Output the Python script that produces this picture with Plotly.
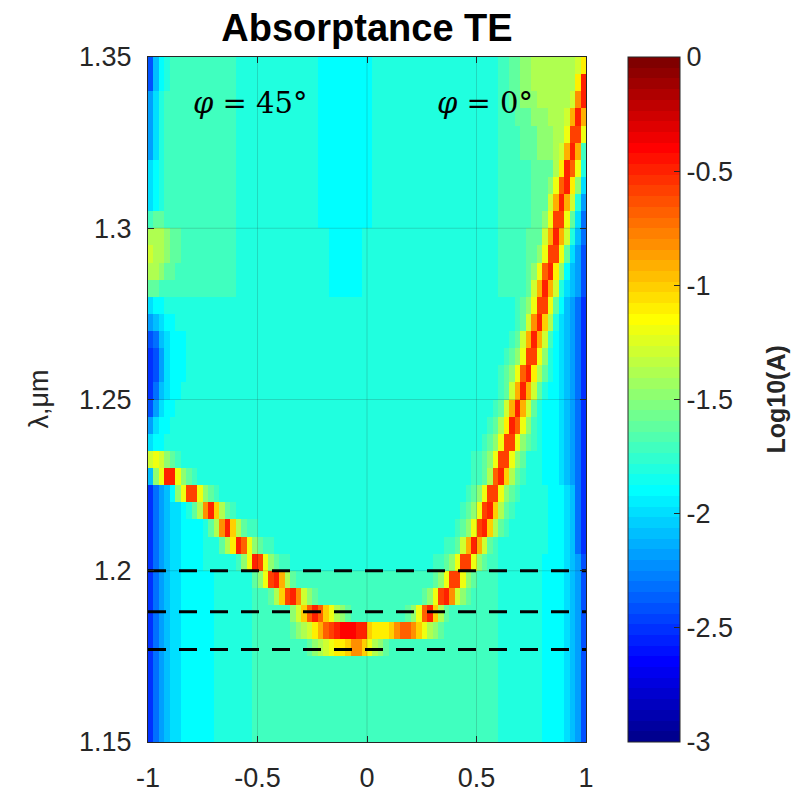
import numpy as np
import plotly.graph_objects as go

# grid: bin edges along the in-plane wavevector and the wavelength (um)
kx_edges = np.linspace(-1.0, 1.0, 81)
lam_edges = np.linspace(1.15, 1.35, 41)

# log10(A) per wavelength row, top row (1.345 um) first.
# Each character is one level: '0'..'9','a'..'u' -> -3.0 .. 0.0 in 0.1 steps
LEVELS = "0123456789abcdefghijklmnopqrstu"
logA_rows = [
    "69bcdddddd ddddddcccc cccccccccc cbbbbbbbbb bccccccccc cccccccccc ccccddeeff gggggggghj",
    "69bcdddddd ddddddcccc cccccccccc cbbbbbbbbb bccccccccc cccccccccc ccccddeeff ggggggggjp",
    "8acddddddd ddddddcccc cccccccccc cbbbbbbbbb bccccccccc cccccccccc ccccddeeff fgggggghmp",
    "8acddddddd ddddddcccc cccccccccc cbbbbbbbbb bccccccccc cccccccccc ccccdddeee fffggghlpl",
    "8acddddddd ddddddcccc cccccccccc cbbbbbbbbb bccccccccc cccccccccc ccccddddee efffggiooi",
    "8acddddddd ddddddcccc cccccccccc cbbbbbbbbb bccccccccc cccccccccc ccccddddee efffghlpld",
    "abcddddddd ddddddcccc cccccccccc cbbbbbbbbb bccccccccc cccccccccc ccccdddddd eeeegjpnic",
    "abcddddddd ddddddcccc cccccccccc cbbbbbbbbb bccccccccc cccccccccc ccccdddddd eeefinpjfa",
    "abcddddddd ddddddcccc cccccccccc cbbbbbbbbb bccccccccc cccccccccc ccccdddddd eeehlplhc8",
    "deeddddddd ddddddcccc cccccccccc cbbbbbbbbb bccccccccc cccccccccc ccccdddddd eefiooiea7",
    "gggfeedddd ddddddcccc cccccccccc cccbbbbbbc cccccccccc cccccccccc ccccddddde eehlplhc97",
    "hggfeedddd ddddddcccc cccccccccc cccbbbbbbc cccccccccc cccccccccc ccccddddde efiooiea86",
    "ggfeeddddd ddddddcccc cccccccccc cccbbbbbbc cccccccccc cccccccccc ccccddddde finpjfb986",
    "eedddddddd ddddddcccc cccccccccc cccbbbbbbc cccccccccc cccccccccc ccccddddde hlplhca986",
    "abbccccccc cccccccccc cccccccccc cccccccccc cccccccccc cccccccccc cccccccdef iooieb9875",
    "89abbccccc cccccccccc cccccccccc cccccccccc cccccccccc cccccccccc cccccccdeh mpkgca9875",
    "679abbbccc cccccccccc cccccccccc cccccccccc cccccccccc cccccccccc ccccccdehl plhdba9875",
    "568abbbccc cccccccccc cccccccccc cccccccccc cccccccccc cccccccccc cccccdefio oifcba9875",
    "568abbbccc cccccccccc cccccccccc cccccccccc cccccccccc cccccccccc ccccdefinp jgecba9875",
    "579abbcccc cccccccccc cccccccccc cccccccccc cccccccccc cccccccccc ccccdehlpl hecbba9875",
    "68abbccccc cccccccccc cccccccccc cccccccccc cccccccccc cccccccccc cccdehlplh ecbbba9875",
    "8abbcccccc cccccccccc cccccccccc cccccccccc cccccccccc cccccccccc ccdegjpnif dcbbba9875",
    "abbccccccc cccccccccc cccccccccc cccccccccc cccccccccc cccccccccc cdefiooife dcbbba9875",
    "hihfedcccc cccccccccc cccccccccc cccccccccc cccccccccc cccccccccd defiooifec ccbbba9875",
    "9fippifedc cccccccccc cccccccccc cccccccccc cccccccccc cccccccccd degnpkgedc ccbbba9875",
    "5789bfiooi fedccccccc cccccccccc cccccccccc cccccccccc ccccccccde fiooifedcc cccbbba975",
    "5789aabceg mpkgedcccc cccccccccc cccccccccc cccccccccc cccccccdef iopkgedccc cccbbba975",
    "5789aabbbb cegmpkgedd cccccccccc cccccccccc cccccccccc ccccccdefi opkgedcccc cccbbba975",
    "5789aabbbb cccegjpnif eddccccccc cccccccccc cccccccccc ccccddehlp lhedcccccc cccbbba975",
    "5789aabbbb ccccccdfip oifeddcccc cccccccccc cccccccccc ccddefiooi feddcccccc ccbbbba986",
    "5789aabbbb bbccccccce fioplgeddd dddddddddd dddddddddd ddefiooife ddddcccccc ccbbbba986",
    "5789aabbbb bbcccccccd ddegkopmhf eddddddddd dddddddddd efiopmhfed ddddcccccc ccbbbba986",
    "5789aabbbb bbcccccccd ddddddfhkn pnkigfeddd dddddddefi npkgeddddd ddddcccccc ccbbbba986",
    "5789aabbbb bbcccccccd ddddddefgh jlnopqqqpp kjjjkmnnmk igfedddddd ddddcccccc ccbbbba986",
    "5789aabbbb bbcccccccd ddddddddde fghijjkmmk igfedddddd dddddddddd ddddcccccc ccbbbba986",
    "5789aabbbb bbcccccccd dddddddddd dddddddddd dddddddddd dddddddddd ddddcccccc ccbbbba986",
    "5789aabbbb bbcccccccd dddddddddd dddddddddd dddddddddd dddddddddd ddddcccccc ccbbbba986",
    "5789aabbbb bbcccccccd dddddddddd dddddddddd dddddddddd dddddddddd ddddcccccc ccbbbba986",
    "5789aabbbb bbcccccccd dddddddddd dddddddddd dddddddddd dddddddddd ddddcccccc ccbbbba986",
    "5789aabbbb bbcccccccd dddddddddd dddddddddd dddddddddd dddddddddd ddddcccccc ccbbbba986",
]

# wavelengths marked with dashed lines (um)
marked_lambda = [1.2, 1.188, 1.177]

x_ticks = [-1, -0.5, 0, 0.5, 1]
x_ticktext = ["-1", "-0.5", "0", "0.5", "1"]
y_ticks = [1.15, 1.2, 1.25, 1.3, 1.35]
y_ticktext = ["1.15", "1.2", "1.25", "1.3", "1.35"]
c_ticks = [0, -0.5, -1, -1.5, -2, -2.5, -3]
c_ticktext = ["0", "-0.5", "-1", "-1.5", "-2", "-2.5", "-3"]

z = []
for row in reversed(logA_rows):
    cells = row.replace(" ", "")
    assert len(cells) == 80
    z.append([-3.0 + 0.1 * LEVELS.index(ch) for ch in cells])


def jet(m=64):
    """MATLAB-style jet colormap with m entries."""
    n = int(np.ceil(m / 4))
    u = np.concatenate([np.arange(1, n + 1) / n, np.ones(n - 1), np.arange(n, 0, -1) / n])
    g = int(np.ceil(n / 2)) - (1 if m % 4 == 1 else 0) + np.arange(1, len(u) + 1)
    r = g + n
    b = g - n
    cmap = np.zeros((m, 3))
    for ch, idxs in ((0, r), (1, g), (2, b)):
        for idx, val in zip(idxs, u):
            if 1 <= idx <= m:
                cmap[idx - 1, ch] = val
    return cmap


cmap = jet(64)
colorscale = []
for k, (r, g, b) in enumerate(cmap):
    col = f"rgb({int(round(r * 255))},{int(round(g * 255))},{int(round(b * 255))})"
    colorscale.append([k / 64, col])
    colorscale.append([(k + 1) / 64, col])

SANS = "Liberation Sans, Arial, Helvetica, sans-serif"
INK = "#262626"

fig = go.Figure()
fig.add_trace(go.Heatmap(
    x=kx_edges, y=lam_edges, z=z,
    zmin=-3, zmax=0, colorscale=colorscale,
    hoverinfo="skip",
    colorbar=dict(
        x=(628 - 148) / 438, xanchor="left", y=0.5, yanchor="middle",
        len=1, lenmode="fraction", thickness=52, thicknessmode="pixels",
        xpad=0, ypad=0, outlinewidth=1, outlinecolor=INK,
        ticks="inside", ticklen=6, tickcolor=INK,
        tickvals=c_ticks, ticktext=c_ticktext,
        tickfont=dict(family=SANS, size=27, color=INK),
    ),
))

for lv in marked_lambda:
    fig.add_trace(go.Scatter(
        x=[-1, 1], y=[lv, lv], mode="lines",
        line=dict(color="black", width=3, dash="18px,13px"),
        hoverinfo="skip", showlegend=False,
    ))

shapes = []
for gx in x_ticks[1:-1]:
    shapes.append(dict(type="line", xref="x", yref="y", x0=gx, x1=gx, y0=1.15, y1=1.35,
                       layer="above", line=dict(color="rgba(38,38,38,0.18)", width=1)))
for gy in y_ticks[1:-1]:
    shapes.append(dict(type="line", xref="x", yref="y", x0=-1, x1=1, y0=gy, y1=gy,
                       layer="above", line=dict(color="rgba(38,38,38,0.18)", width=1)))

axis_common = dict(
    showline=True, linecolor=INK, linewidth=1, mirror="ticks",
    ticks="inside", ticklen=6, tickcolor=INK, showgrid=False, zeroline=False,
    automargin=False,
    tickfont=dict(family=SANS, size=27, color=INK),
)

fig.update_layout(
    width=803, height=794,
    margin=dict(l=148, r=217, t=57, b=52, autoexpand=False),
    paper_bgcolor="white", plot_bgcolor="white",
    showlegend=False,
    title=dict(text="<b>Absorptance TE</b>", x=0.5, xref="paper", xanchor="center",
               y=1 - 28 / 794, yref="container", yanchor="middle",
               font=dict(family=SANS, size=38, color="black")),
    xaxis=dict(range=[-1, 1], tickvals=x_ticks, ticktext=x_ticktext,
               ticklabelstandoff=12, **axis_common),
    yaxis=dict(range=[1.15, 1.35], tickvals=y_ticks, ticktext=y_ticktext,
               ticklabelstandoff=10, **axis_common),
    shapes=shapes,
    annotations=[
        dict(text="λ,μm", x=(38 - 148) / 438, y=0.5, xref="paper", yref="paper",
             textangle=-90, showarrow=False, xanchor="center", yanchor="middle",
             font=dict(family=SANS, size=27, color=INK)),
        dict(text="<b>Log10(A)</b>", x=(775 - 148) / 438, y=0.5, xref="paper", yref="paper",
             textangle=-90, showarrow=False, xanchor="center", yanchor="middle",
             font=dict(family=SANS, size=25, color=INK)),
        dict(text="<i>φ</i> = 45°", x=-0.534, y=1.3366, xref="x", yref="y",
             showarrow=False, xanchor="center", yanchor="middle",
             font=dict(family="DejaVu Serif, serif", size=29, color="black")),
        dict(text="<i>φ</i> = 0°", x=0.539, y=1.3366, xref="x", yref="y",
             showarrow=False, xanchor="center", yanchor="middle",
             font=dict(family="DejaVu Serif, serif", size=29, color="black")),
    ],
)

fig.write_html("out.html")
